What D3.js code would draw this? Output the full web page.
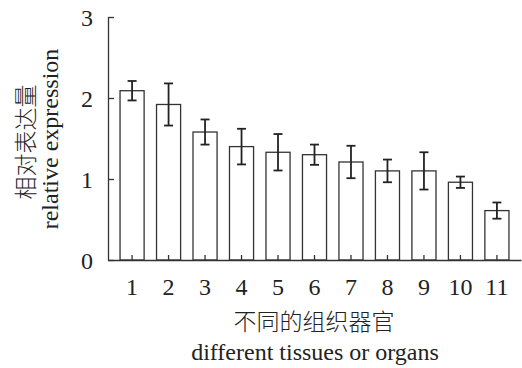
<!DOCTYPE html>
<html><head><meta charset="utf-8">
<script src="https://cdn.jsdelivr.net/npm/d3@7"></script>
<style>body{margin:0;background:#fff}</style>
</head><body>
<svg id="c" width="522" height="368"></svg>
<script>
const categories = ["1","2","3","4","5","6","7","8","9","10","11"];
const values = [2.09, 1.92, 1.58, 1.40, 1.33, 1.30, 1.21, 1.10, 1.10, 0.96, 0.61];
const errors = [0.12, 0.26, 0.155, 0.22, 0.225, 0.125, 0.20, 0.14, 0.23, 0.07, 0.10];
const yTicks = [0, 1, 2, 3];

const svg = d3.select("#c");
const serif = "'Liberation Serif','Times New Roman',serif";
const cjk = "'Noto Sans CJK SC',sans-serif";
const ink = "#333";
const txt = "#222";

const x = d3.scaleBand().domain(categories).range([108, 521]).paddingInner(0.34).paddingOuter(0.33);
const y = d3.scaleLinear().domain([0, 3]).range([260, 17]);

// bars
svg.selectAll("rect.bar").data(values).join("rect")
  .attr("class", "bar")
  .attr("x", (d,i) => x(categories[i]))
  .attr("y", d => y(d))
  .attr("width", x.bandwidth())
  .attr("height", d => y(0) - y(d))
  .attr("fill", "#fff").attr("stroke", ink).attr("stroke-width", 1.3);

// error bars
const cap = 4.5;
const eg = svg.append("g").attr("stroke", "#222").attr("stroke-width", 1.8);
values.forEach((v,i) => {
  const cx = x(categories[i]) + x.bandwidth()/2;
  eg.append("line").attr("x1", cx).attr("x2", cx).attr("y1", y(v+errors[i])).attr("y2", y(v-errors[i]));
  eg.append("line").attr("x1", cx-cap).attr("x2", cx+cap).attr("y1", y(v+errors[i])).attr("y2", y(v+errors[i]));
  eg.append("line").attr("x1", cx-cap).attr("x2", cx+cap).attr("y1", y(v-errors[i])).attr("y2", y(v-errors[i]));
});

// x axis
const xa = svg.append("g").attr("transform", "translate(0,260)")
  .call(d3.axisBottom(x).tickSizeInner(-5).tickSizeOuter(0).tickPadding(0));
xa.select(".domain").attr("stroke", ink).attr("stroke-width", 1.3);
xa.selectAll(".tick line").attr("stroke", ink).attr("stroke-width", 1.3);
xa.selectAll(".tick text").attr("y", 35).attr("dy", null)
  .style("font-family", serif).style("font-size", "24px").attr("fill", txt);

// y axis
const ya = svg.append("g").attr("transform", "translate(108,0)")
  .call(d3.axisLeft(y).tickValues(yTicks).tickFormat(d3.format("d")).tickSizeInner(-6).tickSizeOuter(0).tickPadding(0));
ya.select(".domain").attr("stroke", ink).attr("stroke-width", 1.3);
ya.selectAll(".tick line").attr("stroke", ink).attr("stroke-width", 1.3);
ya.selectAll(".tick text").attr("x", -15).attr("dy", "0.34em")
  .style("font-family", serif).style("font-size", "24px").attr("fill", txt);

// axis titles
svg.append("text").attr("x", 314).attr("y", 330).attr("text-anchor", "middle")
  .style("font-family", cjk).style("font-weight", 300).style("font-size", "23px").attr("fill", txt)
  .text("不同的组织器官");
svg.append("text").attr("x", 315).attr("y", 360).attr("text-anchor", "middle")
  .style("font-family", serif).style("font-size", "24px").attr("fill", txt)
  .text("different tissues or organs");

svg.append("text").attr("transform", "translate(34,142) rotate(-90)").attr("text-anchor", "middle")
  .style("font-family", cjk).style("font-weight", 300).style("font-size", "23px").attr("fill", txt)
  .text("相对表达量");
svg.append("text").attr("transform", "translate(58,139) rotate(-90)").attr("text-anchor", "middle")
  .style("font-family", serif).style("font-size", "24px").attr("fill", txt)
  .text("relative expression");
</script>
</body></html>
